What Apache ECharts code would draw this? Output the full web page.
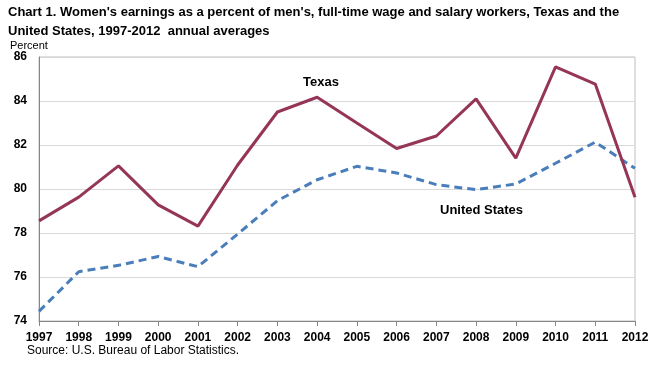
<!DOCTYPE html>
<html><head><meta charset="utf-8">
<script src="https://cdn.jsdelivr.net/npm/echarts@6/dist/echarts.min.js"></script>
<style>html,body{margin:0;padding:0;background:#fff}#c{width:668px;height:365px}</style>
</head><body><div id="c"></div>
<script>
const years = ['1997','1998','1999','2000','2001','2002','2003','2004','2005','2006','2007','2008','2009','2010','2011','2012'];
const texas = [78.55,79.63,81.05,79.28,78.31,81.09,83.5,84.17,83.0,81.84,82.41,84.1,81.4,85.55,84.77,79.62];
const unitedStates = [74.44,76.24,76.53,76.93,76.47,77.95,79.47,80.42,81.03,80.73,80.2,79.97,80.23,81.17,82.13,80.94];
const yTicks = [74,76,78,80,82,84,86];

const chart = echarts.init(document.getElementById('c'), null, {renderer:'canvas'});
const F = 'Liberation Sans, Arial, sans-serif';
chart.setOption({
  animation:false,
  backgroundColor:'#fff',
  title:[{
    text:"Chart 1. Women's earnings as a percent of men's, full-time wage and salary workers, Texas and the\nUnited States, 1997-2012  annual averages",
    left:8, top:3, padding:0,
    textStyle:{fontFamily:F, fontSize:13, fontWeight:'bold', color:'#000', lineHeight:19}
  },{
    text:'Source: U.S. Bureau of Labor Statistics.',
    left:27, top:345, padding:0,
    textStyle:{fontFamily:F, fontSize:12, fontWeight:'normal', color:'#000'}
  },{
    text:'Percent', left:10, top:40, padding:0,
    textStyle:{fontFamily:F, fontSize:11, fontWeight:'normal', color:'#000'}
  }],
  grid:{left:39, right:33, top:57, bottom:44, show:true, borderColor:'#BFBFBF', borderWidth:1},
  xAxis:{
    type:'category', data:years, boundaryGap:false,
    axisLine:{lineStyle:{color:'#868686'}},
    axisTick:{show:true, length:5, lineStyle:{color:'#868686'}},
    axisLabel:{fontFamily:F, fontSize:12, fontWeight:'bold', color:'#000', margin:11, interval:0}
  },
  yAxis:{
    type:'value', min:74, max:86, interval:2,
    axisLine:{show:true, lineStyle:{color:'#868686'}},
    axisTick:{show:false},
    splitLine:{lineStyle:{color:'#D9D9D9'}},
    axisLabel:{fontFamily:F, fontSize:12, fontWeight:'bold', color:'#000', margin:12,
      formatter:v=>yTicks.includes(v)?String(v):''}
  },
  series:[{
    name:'Texas', type:'line', data:texas, symbol:'none',
    lineStyle:{color:'#953558', width:3}, z:3
  },{
    name:'United States', type:'line', data:unitedStates, symbol:'none',
    lineStyle:{color:'#4A7EBB', width:3, type:[8,5]}, z:2
  }],
  graphic:[{
    type:'text', left:303, top:76,
    style:{text:'Texas', font:'bold 13px '+F, fill:'#000'}
  },{
    type:'text', left:440, top:204,
    style:{text:'United States', font:'bold 13px '+F, fill:'#000'}
  }]
});
</script></body></html>
